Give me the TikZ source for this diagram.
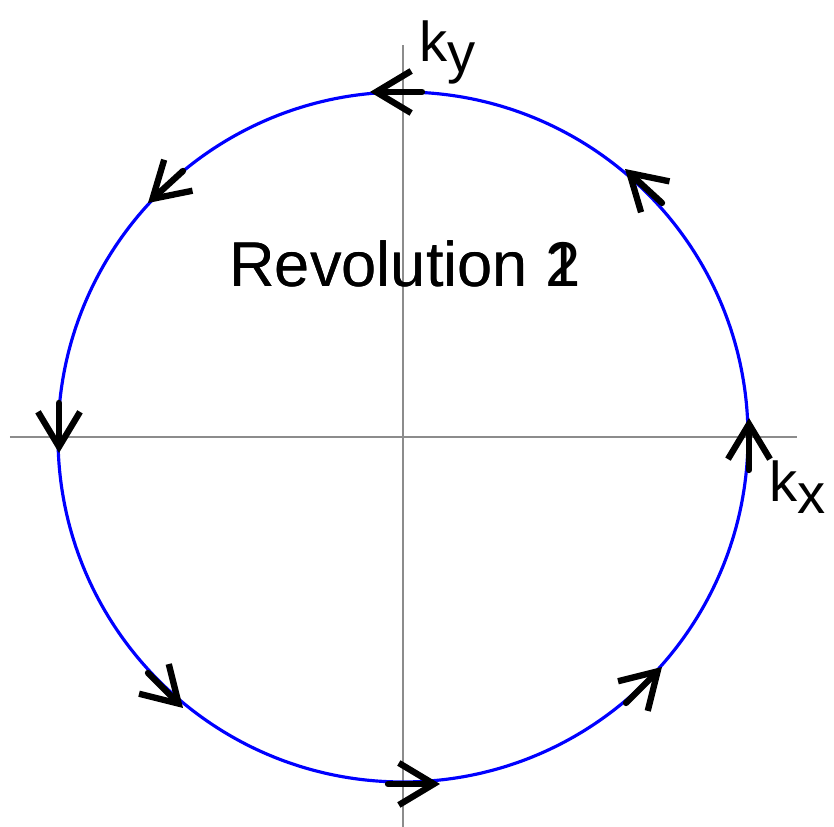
\documentclass[tikz,border=0pt]{standalone}
\usepackage{fontspec}
\setmainfont{Liberation Sans}
\usetikzlibrary{arrows.meta}

\begin{document}
\begin{tikzpicture}[
		axis/.style={draw=black!45, line width=0.6pt},
		orbit/.style={draw=blue, line width=0.9pt},
		flow/.style={-{Straight Barb[length=3.5mm, width=4.2mm]}, line width=1.8pt, line cap=round, black},
		axlabel/.style={inner sep=0pt, anchor=base west, font=\fontsize{16}{18}\selectfont},
		revlabel/.style={inner sep=0pt, anchor=base, font=\fontsize{18}{20}\selectfont}
		]
		\useasboundingbox (-4.03,-3.90) rectangle (4.31,4.37);
		
		% AXES
		\coordinate (xl) at (-3.93,0);
		\coordinate (xr) at (3.94,0);
		\coordinate (yb) at (0,-3.90);
		\coordinate (yt) at (0,3.92);
		\draw[axis] (xl) -- (xr);
		\draw[axis] (yb) -- (yt);
		\node[axlabel] (ky) at (0.16,3.75) {k\raisebox{-0.11cm}{y}};
		\node[axlabel] (kx) at (3.66,-0.65) {k\raisebox{-0.12cm}{x}};
		
		% PATH IN K-SPACE
		\coordinate (o) at (0,0);
		\draw[orbit] (o) circle (3.45);
		
		% DIRECTION MARKS
		\foreach \tl/\tp in {{(0.19,3.45)}/{(-0.33,3.45)}, {(-2.20,2.66)}/{(-2.55,2.34)},
			{(-3.44,0.34)}/{(-3.44,-0.16)}, {(-2.55,-2.36)}/{(-2.20,-2.71)},
			{(-0.15,-3.47)}/{(0.37,-3.47)}, {(2.23,-2.66)}/{(2.59,-2.30)},
			{(3.46,-0.33)}/{(3.46,0.19)}, {(2.59,2.34)}/{(2.22,2.68)}}
			\draw[flow] \tl -- \tp;
		
		% REVOLUTION COUNTER
		\node[revlabel] (rev1) at (0.02,1.50) {Revolution 1};
		\node[revlabel] (rev2) at (0.02,1.50) {Revolution 2};
		
	\end{tikzpicture}
\end{document}
